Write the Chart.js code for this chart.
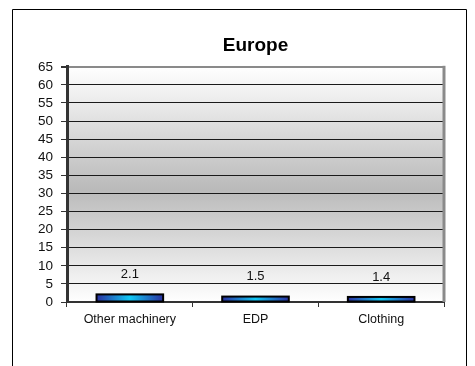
<!DOCTYPE html>
<html>
<head>
<meta charset="utf-8">
<script src="https://cdn.jsdelivr.net/npm/chart.js@4"></script>
<style>
  html, body { margin: 0; padding: 0; background: #fff; }
  #wrap { width: 475px; height: 366px; }
</style>
</head>
<body>
<div id="wrap"><canvas id="bar" width="475" height="366"></canvas></div>
<script>
// chart data
var categories = ['Other machinery', 'EDP', 'Clothing'];
var values = [2.1, 1.5, 1.4];
var yTicks = [0, 5, 10, 15, 20, 25, 30, 35, 40, 45, 50, 55, 60, 65];

var sans = '"Liberation Sans", Arial, sans-serif';

// outer frame + plot background
var framePlugin = {
    id: 'frame',
    beforeDraw: function(chart) {
        var c = chart.ctx, a = chart.chartArea;
        c.save();
        var g = c.createLinearGradient(0, a.top, 0, a.bottom);
        g.addColorStop(0, '#ffffff');
        g.addColorStop(0.52, '#bababa');
        g.addColorStop(1, '#ffffff');
        c.fillStyle = g;
        c.fillRect(a.left, a.top, a.right - a.left, a.bottom - a.top);
        c.strokeStyle = '#000';
        c.lineWidth = 1;
        c.beginPath();
        c.moveTo(12.5, 366);
        c.lineTo(12.5, 9.5);
        c.lineTo(466.5, 9.5);
        c.lineTo(466.5, 366);
        c.stroke();
        c.restore();
    },
    afterDraw: function(chart) {
        var c = chart.ctx, a = chart.chartArea;
        c.save();
        c.strokeStyle = '#8a8a8a';
        c.lineWidth = 3;
        c.beginPath();
        c.moveTo(a.right, a.top - 1);
        c.lineTo(a.right, a.bottom);
        c.stroke();
        c.restore();
    }
};

// bar outlines (centred on the edge, like the original) + value labels
var labelPlugin = {
    id: 'valueLabels',
    afterDatasetsDraw: function(chart) {
        var c = chart.ctx;
        var meta = chart.getDatasetMeta(0);
        c.save();
        c.strokeStyle = '#000';
        c.lineWidth = 2;
        meta.data.forEach(function(bar) {
            c.strokeRect(bar.x - bar.width / 2, bar.y, bar.width, bar.base - bar.y);
        });
        c.font = '13px ' + sans;
        c.fillStyle = '#111';
        c.textAlign = 'center';
        c.textBaseline = 'middle';
        meta.data.forEach(function(bar, i) {
            c.fillText(values[i].toFixed(1), bar.x, bar.y - 20);
        });
        c.restore();
    }
};

function barGradient(context) {
    var chart = context.chart;
    var xs = chart.scales.x;
    if (!xs || !chart.chartArea) return '#1ab8e8';
    var cx = xs.getPixelForValue(context.dataIndex);
    var w = (xs.width / categories.length) * 0.53;
    var g = chart.ctx.createLinearGradient(cx - w / 2, 0, cx + w / 2, 0);
    g.addColorStop(0, '#2a30a0');
    g.addColorStop(0.5, '#10c8f4');
    g.addColorStop(1, '#2a30a0');
    return g;
}

var ctx = document.getElementById('bar').getContext('2d');
var myChart = new Chart(ctx, {
    type: 'bar',
    data: {
        labels: categories,
        datasets: [{
            label: 'Europe',
            data: values,
            backgroundColor: barGradient,
            borderWidth: 0,
            categoryPercentage: 1,
            barPercentage: 0.53
        }]
    },
    options: {
        responsive: false,
        animation: false,
        layout: { padding: { left: 0, right: 31, top: 0, bottom: 0 } },
        plugins: {
            legend: { display: false },
            tooltip: { enabled: false },
            title: {
                display: true,
                text: 'Europe',
                fullSize: false,
                color: '#000',
                font: { family: sans, size: 19, weight: 'bold' },
                padding: { top: 34, bottom: 10 }
            }
        },
        scales: {
            x: {
                afterFit: function(scale) { scale.height = 64; },
                grid: {
                    offset: true,
                    drawOnChartArea: false,
                    drawTicks: true,
                    tickLength: 5,
                    tickColor: '#333'
                },
                border: { display: true, color: '#333', width: 2 },
                ticks: {
                    padding: 5,
                    color: '#111',
                    font: { family: sans, size: 12.5 }
                }
            },
            y: {
                min: 0,
                max: 65,
                afterFit: function(scale) { scale.width = 67; },
                afterBuildTicks: function(scale) {
                    scale.ticks = yTicks.map(function(v) { return { value: v }; });
                },
                grid: {
                    color: function(c) { return c.tick && c.tick.value === 65 ? '#8a8a8a' : '#1a1a1a'; },
                    lineWidth: function(c) { return c.tick && c.tick.value === 65 ? 2 : 1; },
                    tickLength: 6,
                    tickColor: '#333'
                },
                border: { display: true, color: '#333', width: 3 },
                ticks: {
                    autoSkip: false,
                    padding: 8,
                    color: '#111',
                    font: { family: sans, size: 13.5 }
                }
            }
        }
    },
    plugins: [framePlugin, labelPlugin]
});
</script>
</body>
</html>
